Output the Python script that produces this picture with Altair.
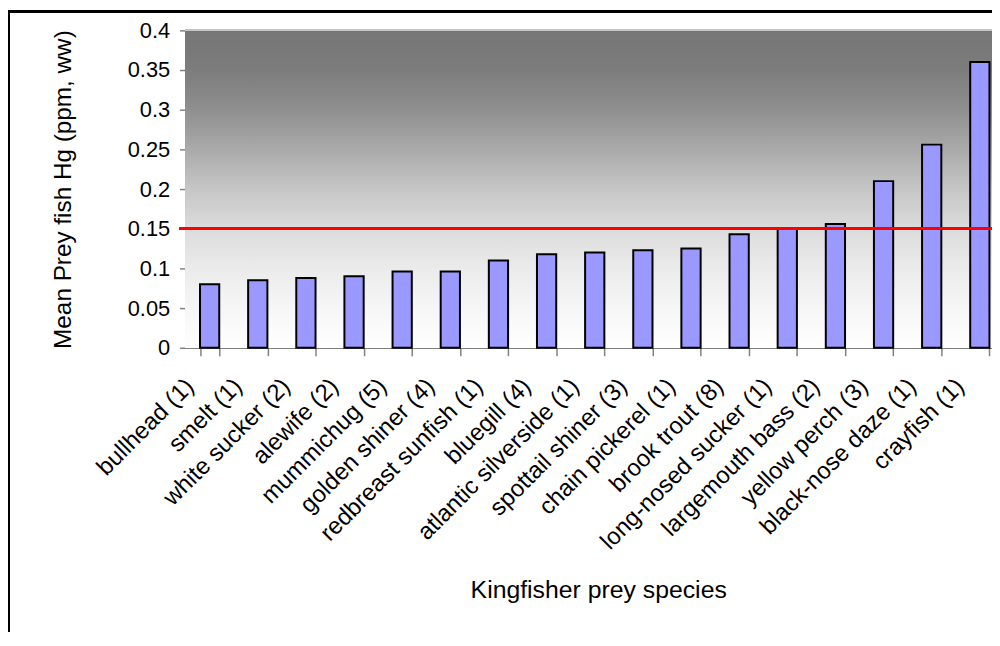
import altair as alt
import pandas as pd

species = ["bullhead (1)", "smelt (1)", "white sucker (2)", "alewife (2)",
           "mummichug (5)", "golden shiner (4)", "redbreast sunfish (1)",
           "bluegill (4)", "atlantic silverside (1)", "spottail shiner (3)",
           "chain pickerel (1)", "brook trout (8)", "long-nosed sucker (1)",
           "largemouth bass (2)", "yellow perch (3)", "black-nose daze (1)",
           "crayfish (1)"]
hg = [0.080, 0.085, 0.088, 0.090, 0.096, 0.096, 0.110, 0.118, 0.120, 0.123,
      0.125, 0.143, 0.150, 0.156, 0.210, 0.256, 0.360]
y_ticks = [0, 0.05, 0.1, 0.15, 0.2, 0.25, 0.3, 0.35, 0.4]
threshold = 0.15
y_max = 0.4

df = pd.DataFrame({"species": species, "hg": hg})

FONT = "Arial, Liberation Sans, sans-serif"
PLOT_RANGE = 825

xscale = alt.Scale(domain=species, range=[0, PLOT_RANGE], paddingInner=0.6, paddingOuter=0.3)
yscale = alt.Scale(domain=[0, y_max], nice=False)

yaxis = alt.Axis(title="Mean Prey fish Hg (ppm, ww)", values=y_ticks,
                 format=".2~f", tickSize=6, labelPadding=10,
                 labelOverlap=False,
                 labelFontSize=22, labelFont=FONT, labelColor="black",
                 titleFont=FONT, titleFontSize=24.5, titleFontWeight="normal",
                 titleColor="black", titleX=-123, titleY=160,
                 titleAngle=270, titleBaseline="middle", titleAlign="center",
                 domainColor="#808080", tickColor="#808080",
                 domainWidth=1.5, tickWidth=1.5, grid=False)

grad = alt.Gradient(
    gradient="linear", x1=0, x2=0, y1=0, y2=1,
    stops=[
        alt.GradientStop(color="#767676", offset=0),
        alt.GradientStop(color="#7c7c7c", offset=0.125),
        alt.GradientStop(color="#8f8f8f", offset=0.25),
        alt.GradientStop(color="#aaaaaa", offset=0.375),
        alt.GradientStop(color="#c6c6c6", offset=0.5),
        alt.GradientStop(color="#dcdcdc", offset=0.625),
        alt.GradientStop(color="#ebebeb", offset=0.75),
        alt.GradientStop(color="#f6f6f6", offset=0.875),
        alt.GradientStop(color="#ffffff", offset=1),
    ],
)

bg = alt.Chart(df).mark_rect(fill=grad).encode(
    y=alt.datum(y_max, scale=yscale, axis=yaxis),
    y2=alt.datum(0),
    x=alt.value(0),
    x2=alt.value(PLOT_RANGE),
)

top_edge = alt.Chart(df).mark_rule(color="#c4c4c4", strokeWidth=1.5).encode(
    y=alt.datum(y_max, axis=yaxis),
    x=alt.value(0),
    x2=alt.value(PLOT_RANGE),
)

bars = alt.Chart(df).mark_bar(fill="#9999FF", stroke="black", strokeWidth=2).encode(
    x=alt.X("species:N", scale=xscale, sort=species,
            axis=alt.Axis(title="Kingfisher prey species", labelAngle=315,
                          labelAlign="right", labelBaseline="middle",
                          tickBand="extent", tickSize=8, labelPadding=27,
                          labelOffset=-20, labelLimit=0, labelOverlap=False,
                          labelFontSize=24, labelFont=FONT, labelColor="black",
                          titleFont=FONT, titleFontSize=25, titleFontWeight="normal",
                          titleColor="black", titleX=416, titleY=244,
                          titleBaseline="middle", titleAlign="center",
                          domainColor="#808080", tickColor="#808080",
                          domainWidth=1.5, tickWidth=1.5, grid=False)),
    y=alt.Y("hg:Q", scale=yscale, axis=yaxis),
)

rule = alt.Chart(df).mark_rule(color="#FF0000", strokeWidth=2).encode(
    y=alt.datum(threshold, axis=yaxis),
    x=alt.value(-6),
    x2=alt.value(PLOT_RANGE),
)

border = alt.Chart(df).mark_rect(fill="transparent", stroke="black", strokeWidth=2).encode(
    x=alt.value(-178),
    x2=alt.value(1200),
    y=alt.value(-19),
    y2=alt.value(900),
)

chart = alt.layer(bg, top_edge, bars, rule, border).properties(
    width=813,
    height=320,
    autosize=alt.AutoSizeParams(type="none"),
    padding={"left": 179, "top": 20, "right": 0, "bottom": 284},
    background="white",
).configure_view(stroke=None)

chart.save("out.html", embed_options={"renderer": "svg", "actions": False})
